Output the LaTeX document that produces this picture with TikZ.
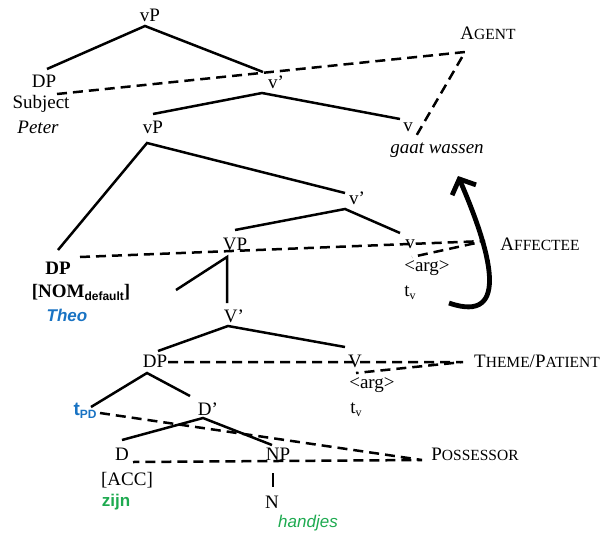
\documentclass[tikz,border=0pt]{standalone}
\usepackage{fontspec}
\setmainfont{Liberation Serif}
\newfontfamily\sansf{Liberation Sans}
\usetikzlibrary{arrows.meta}
\definecolor{theoblue}{RGB}{25,115,195}
\definecolor{zijngreen}{RGB}{30,170,80}
% small caps imitation: full-size initial, reduced capitals after it
\newcommand{\fakesc}[2]{#1{\fontsize{15.5}{18}\selectfont #2}}
% lowered subscript in a smaller size
\newcommand{\lowsub}[1]{\raisebox{-3pt}{\fontsize{12}{14}\selectfont #1}}
\begin{document}
\begin{tikzpicture}[x=1pt,y=-1pt,
  lbl/.style={inner sep=0pt,font=\fontsize{19}{22}\selectfont},
  sanslbl/.style={inner sep=0pt,font=\fontsize{17}{20}\selectfont\sansf},
  branch/.style={line width=2.5pt},
  link/.style={line width=2.5pt,dash pattern=on 10pt off 6pt},
  movearrow/.style={line width=4.8pt,-{Straight Barb[length=12pt,width=26pt]}}]
\useasboundingbox (0,0) rectangle (605,536);

% ---------- labels ----------
\node[lbl] (vPtop) at (150,15) {vP};
\node[lbl] (DPsubj) at (44,81) {DP};
\node[lbl] (subj) at (41,104) {Subject};
\node[lbl] (peter) at (38,127) {\itshape Peter};
\node[lbl] (vbar1) at (276,82) {v’};
\node[lbl] (agent) at (488,33) {\fakesc{A}{GENT}};
\node[lbl] (vP2) at (153,127) {vP};
\node[lbl] (vhead1) at (408,127) {v};
\node[lbl] (gaat) at (437,150) {\itshape gaat wassen};
\node[lbl] (vbar2) at (357,198) {v’};
\node[lbl] (VP) at (235,244) {VP};
\node[lbl] (vhead2) at (410,244) {v};
\node[lbl] (arg1) at (427,268) {<arg>};
\node[lbl] (tv1) at (410,293) {t\lowsub{v}};
\node[lbl] (affectee) at (540,244) {\fakesc{A}{FFECTEE}};
\node[lbl] (DPtheo) at (58,268) {\bfseries DP};
\node[lbl] (nom) at (81,292) {\bfseries [NOM{\sansf\bfseries\lowsub{default}}]};
\node[sanslbl] (theo) at (67,315) {\bfseries\itshape\color{theoblue}Theo};
\node[lbl] (Vbar) at (234,316) {V’};
\node[lbl] (DPobj) at (155,361) {DP};
\node[lbl] (Vhead) at (355,361) {V};
\node[lbl] (arg2) at (372,385) {<arg>};
\node[lbl] (tv2) at (356,410) {t\lowsub{v}};
\node[lbl] (theme) at (537,361) {\fakesc{T}{HEME}/\fakesc{P}{ATIENT}};
\node[lbl] (tPD) at (85,411) {\sansf\bfseries\color{theoblue}t\lowsub{PD}};
\node[lbl] (Dbar) at (208,409) {D’};
\node[lbl] (possessor) at (475,454) {\fakesc{P}{OSSESSOR}};
\node[lbl] (Dhead) at (122,454) {D};
\node[lbl] (NP) at (278,454) {NP};
\node[lbl] (acc) at (127,480) {[ACC]};
\node[sanslbl] (zijn) at (116,502) {\bfseries\color{zijngreen}zijn};
\node[lbl] (Nhead) at (272,502) {N};
\node[sanslbl] (handjes) at (308,523) {\itshape\color{zijngreen}handjes};

% ---------- branch end points ----------
\coordinate (a1) at (145,26);  \coordinate (a1l) at (47,69);   \coordinate (a1r) at (263,72);
\coordinate (a2) at (262,93);  \coordinate (a2l) at (153,114); \coordinate (a2r) at (400,119);
\coordinate (a3) at (147,143); \coordinate (a3l) at (58,250);  \coordinate (a3r) at (345,193);
\coordinate (a4) at (345,209); \coordinate (a4l) at (235,230); \coordinate (a4r) at (400,233);
\coordinate (a5) at (227,257); \coordinate (a5l) at (176,290); \coordinate (a5d) at (227,303);
\coordinate (a6) at (228,326); \coordinate (a6l) at (158,351); \coordinate (a6r) at (345,347);
\coordinate (a7) at (147,373); \coordinate (a7l) at (91,407);  \coordinate (a7r) at (190,396);
\coordinate (a8) at (203,418); \coordinate (a8l) at (122,440); \coordinate (a8r) at (272,445);
\coordinate (a9) at (273,473); \coordinate (a9d) at (273,487);

% ---------- tree branches ----------
\draw[branch] (a1l) -- (a1) -- (a1r);
\draw[branch] (a2l) -- (a2) -- (a2r);
\draw[branch] (a3l) -- (a3) -- (a3r);
\draw[branch] (a4l) -- (a4) -- (a4r);
\draw[branch] (a5l) -- (a5) -- (a5d);
\draw[branch] (a6l) -- (a6) -- (a6r);
\draw[branch] (a7l) -- (a7) -- (a7r);
\draw[branch] (a8l) -- (a8) -- (a8r);
\draw[branch] (a9) -- (a9d);

% ---------- thematic links ----------
\coordinate (s1) at (57,94);   \coordinate (p1) at (465,52);  \coordinate (e1) at (415,138);
\coordinate (s2) at (80,257);  \coordinate (p2) at (485,241); \coordinate (e2) at (412,257);
\coordinate (s3) at (168,362); \coordinate (p3) at (463,362); \coordinate (e3) at (356,373);
\coordinate (s4) at (100,413); \coordinate (p4) at (422,460); \coordinate (e4) at (133,462);
\draw[link] (s1) -- (p1) -- (e1);
\draw[link] (s2) -- (p2) -- (e2);
\draw[link] (s3) -- (p3) -- (e3);
\draw[link] (s4) -- (p4) -- (e4);

% ---------- verb movement ----------
\coordinate (m0) at (449,303);
\coordinate (m1) at (458,176);
\draw[movearrow] (m0) .. controls (512,325) and (490,250) .. (m1);
\end{tikzpicture}
\end{document}
